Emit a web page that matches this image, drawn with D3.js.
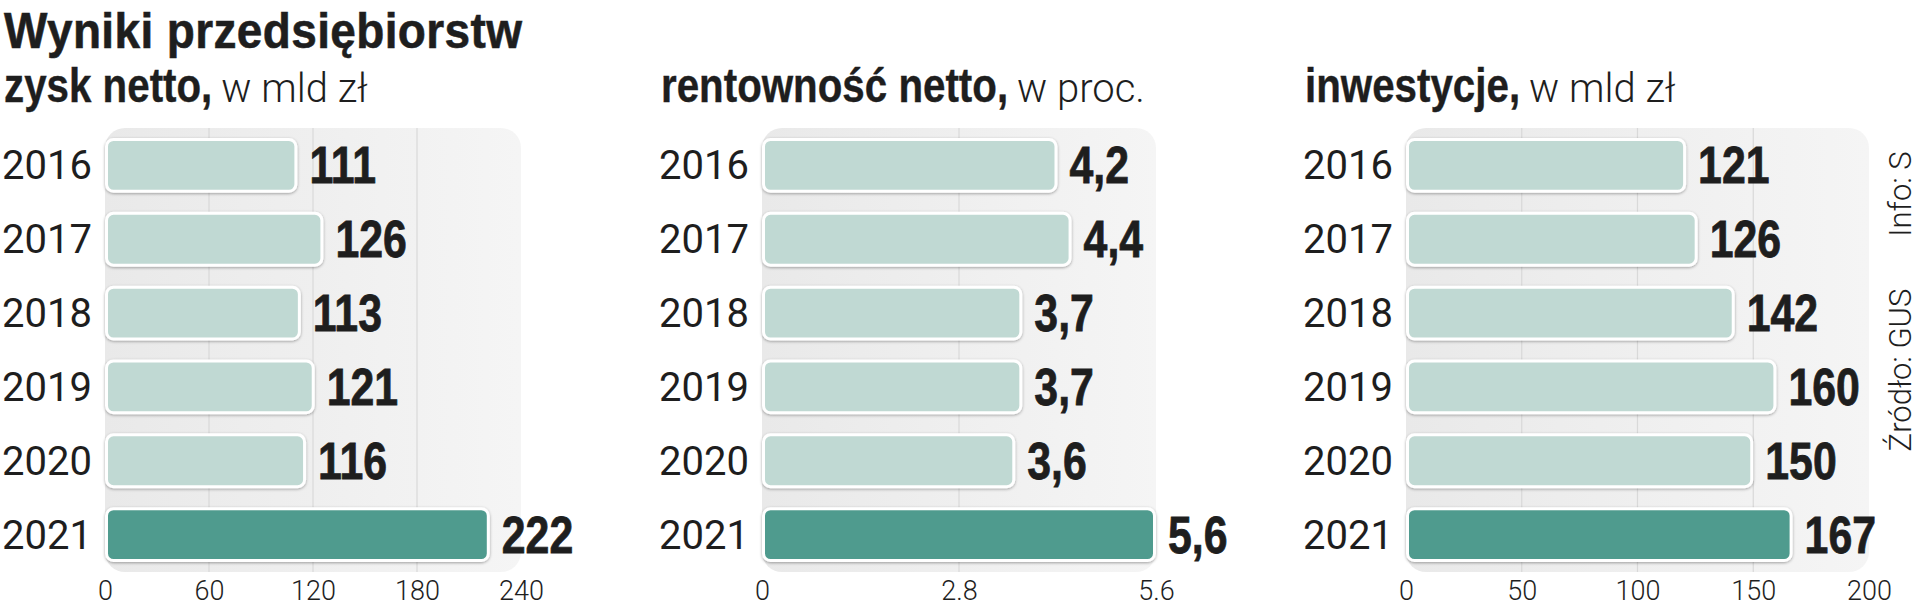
<!DOCTYPE html>
<html><head><meta charset="utf-8">
<script src="https://cdn.jsdelivr.net/npm/d3@7"></script>
<style>
html,body{margin:0;padding:0;background:#fff;}
svg{display:block;}
</style></head>
<body>
<svg id="chart" width="1920" height="606"></svg>
<script>
// ---- data ----
const years = ["2016", "2017", "2018", "2019", "2020", "2021"];
const zyskNetto = [111, 126, 113, 121, 116, 222];
const rentownoscNetto = [4.2, 4.4, 3.7, 3.7, 3.6, 5.6];
const inwestycje = [121, 126, 142, 160, 150, 167];
const zyskTicks = [0, 60, 120, 180, 240];
const rentTicks = [0, 2.8, 5.6];
const inwTicks = [0, 50, 100, 150, 200];
const titleText = "Wyniki przedsiębiorstw";
const panelBold = ["zysk netto,", "rentowność netto,", "inwestycje,"];
const panelLight = ["w mld zł", "w proc.", "w mld zł"];
const sourceText = "Źródło: GUS";
const infoText = "Info: S";

// ---- layout ----
const svg = d3.select("#chart");
const TOP = 128, BOTTOM = 572;
const boldFont = "'Liberation Sans', Arial, sans-serif";
const lightFont = "Roboto, 'Noto Sans', sans-serif";
const textColor = "#1e1e1e";
const lightFill = "#c0d9d3", darkFill = "#4f9b8e";

const defs = svg.append("defs");
const grad = defs.append("linearGradient").attr("id", "bgGrad").attr("x1", "0").attr("x2", "1").attr("y1", "0").attr("y2", "0");
grad.append("stop").attr("offset", "0").attr("stop-color", "#e9e9e9");
grad.append("stop").attr("offset", "1").attr("stop-color", "#f5f5f5");
const f = defs.append("filter").attr("id", "shadow").attr("x", "-5%").attr("y", "-20%").attr("width", "110%").attr("height", "150%");
f.append("feDropShadow").attr("dx", 0).attr("dy", 1).attr("stdDeviation", 1.6).attr("flood-color", "#000").attr("flood-opacity", 0.35);

// condensed bold text helper: horizontally squeezed glyphs
function condensed(parent, x, y, size, sx, txt, sw) {
  return parent.append("text")
    .attr("transform", `translate(${x},${y}) scale(${sx},1)`)
    .attr("font-family", boldFont).attr("font-weight", 700)
    .attr("font-size", size).attr("fill", textColor)
    .attr("stroke", textColor).attr("stroke-width", sw || 0)
    .text(txt);
}

// title
condensed(svg, 4, 48, 50, 0.92, titleText, 0.6).attr("letter-spacing", 0.4);

const y = d3.scaleBand().domain(years).range([TOP, BOTTOM]).paddingInner(0.257).paddingOuter(0.135);

const panels = [
  { x0: 105, x1: 521, max: 240, ticks: zyskTicks, values: zyskNetto, fmt: d => String(d), tfmt: d => String(d) },
  { x0: 762, x1: 1156, max: 5.6, ticks: rentTicks, values: rentownoscNetto, fmt: d => d3.format(".1f")(d).replace(".", ","), tfmt: d => String(d) },
  { x0: 1406, x1: 1869, max: 200, ticks: inwTicks, values: inwestycje, fmt: d => String(d), tfmt: d => String(d) }
];

const SUB_SX = 0.84, VAL_SX = 0.84;

panels.forEach((p, i) => {
  const g = svg.append("g");
  const x = d3.scaleLinear().domain([0, p.max]).range([p.x0, p.x1]);

  // subtitle (bold part condensed, light part after it)
  const sx0 = p.x0 - 101;
  const bt = condensed(g, sx0, 102, 48, SUB_SX, panelBold[i], 0.4);
  const bw = bt.node().getComputedTextLength() * SUB_SX;
  g.append("text").attr("x", sx0 + bw + 9).attr("y", 102)
    .attr("font-family", lightFont).attr("font-weight", 300).attr("font-size", 40)
    .attr("fill", textColor).text(panelLight[i]);

  // background
  g.append("rect").attr("x", x(0)).attr("y", TOP).attr("width", x(p.max) - x(0)).attr("height", BOTTOM - TOP)
    .attr("rx", 20).attr("fill", "url(#bgGrad)");

  // gridlines
  g.selectAll(".grid").data(p.ticks.filter(t => t > 0 && t < p.max)).join("line")
    .attr("x1", d => x(d)).attr("x2", d => x(d)).attr("y1", TOP).attr("y2", BOTTOM)
    .attr("stroke", "#d9d9d9").attr("stroke-width", 1.2);

  // axis tick labels
  const axis = d3.axisBottom(x).tickValues(p.ticks).tickFormat(p.tfmt).tickSize(0).tickPadding(0);
  const ag = g.append("g").attr("transform", `translate(0,${BOTTOM})`).call(axis);
  ag.select(".domain").remove();
  ag.selectAll("text").attr("font-family", lightFont).attr("font-weight", 300).attr("font-size", 27)
    .attr("fill", textColor).attr("dy", null).attr("y", 28);

  // year labels
  g.selectAll(".yl").data(years).join("text")
    .attr("x", p.x0 - 13).attr("y", d => y(d) + y.bandwidth() / 2 + 14)
    .attr("text-anchor", "end").attr("font-family", lightFont).attr("font-weight", 400)
    .attr("font-size", 40).attr("fill", textColor).text(d => d);

  // bars
  const data = years.map((yr, k) => ({ yr, v: p.values[k], last: k === years.length - 1 }));
  g.selectAll(".bar").data(data).join("rect")
    .attr("x", x(0) + 1.5).attr("y", d => y(d.yr) + 1.5)
    .attr("width", d => x(d.v) - x(0) - 3).attr("height", y.bandwidth() - 3)
    .attr("rx", 7).attr("fill", d => d.last ? darkFill : lightFill)
    .attr("stroke", "#fff").attr("stroke-width", 3).attr("filter", "url(#shadow)");

  // values
  data.forEach(d => {
    condensed(g, x(d.v) + 12, y(d.yr) + y.bandwidth() / 2 + 18, 51, VAL_SX, p.fmt(d.v), 0.8);
  });
});

// source / info (rotated)
svg.append("text").attr("transform", "translate(1911,370) rotate(-90)").attr("text-anchor", "middle")
  .attr("font-family", lightFont).attr("font-weight", 300).attr("font-size", 31).attr("fill", textColor).text(sourceText);
svg.append("text").attr("transform", "translate(1911,194) rotate(-90)").attr("text-anchor", "middle")
  .attr("font-family", lightFont).attr("font-weight", 300).attr("font-size", 31).attr("fill", textColor).text(infoText);
</script>
</body></html>
